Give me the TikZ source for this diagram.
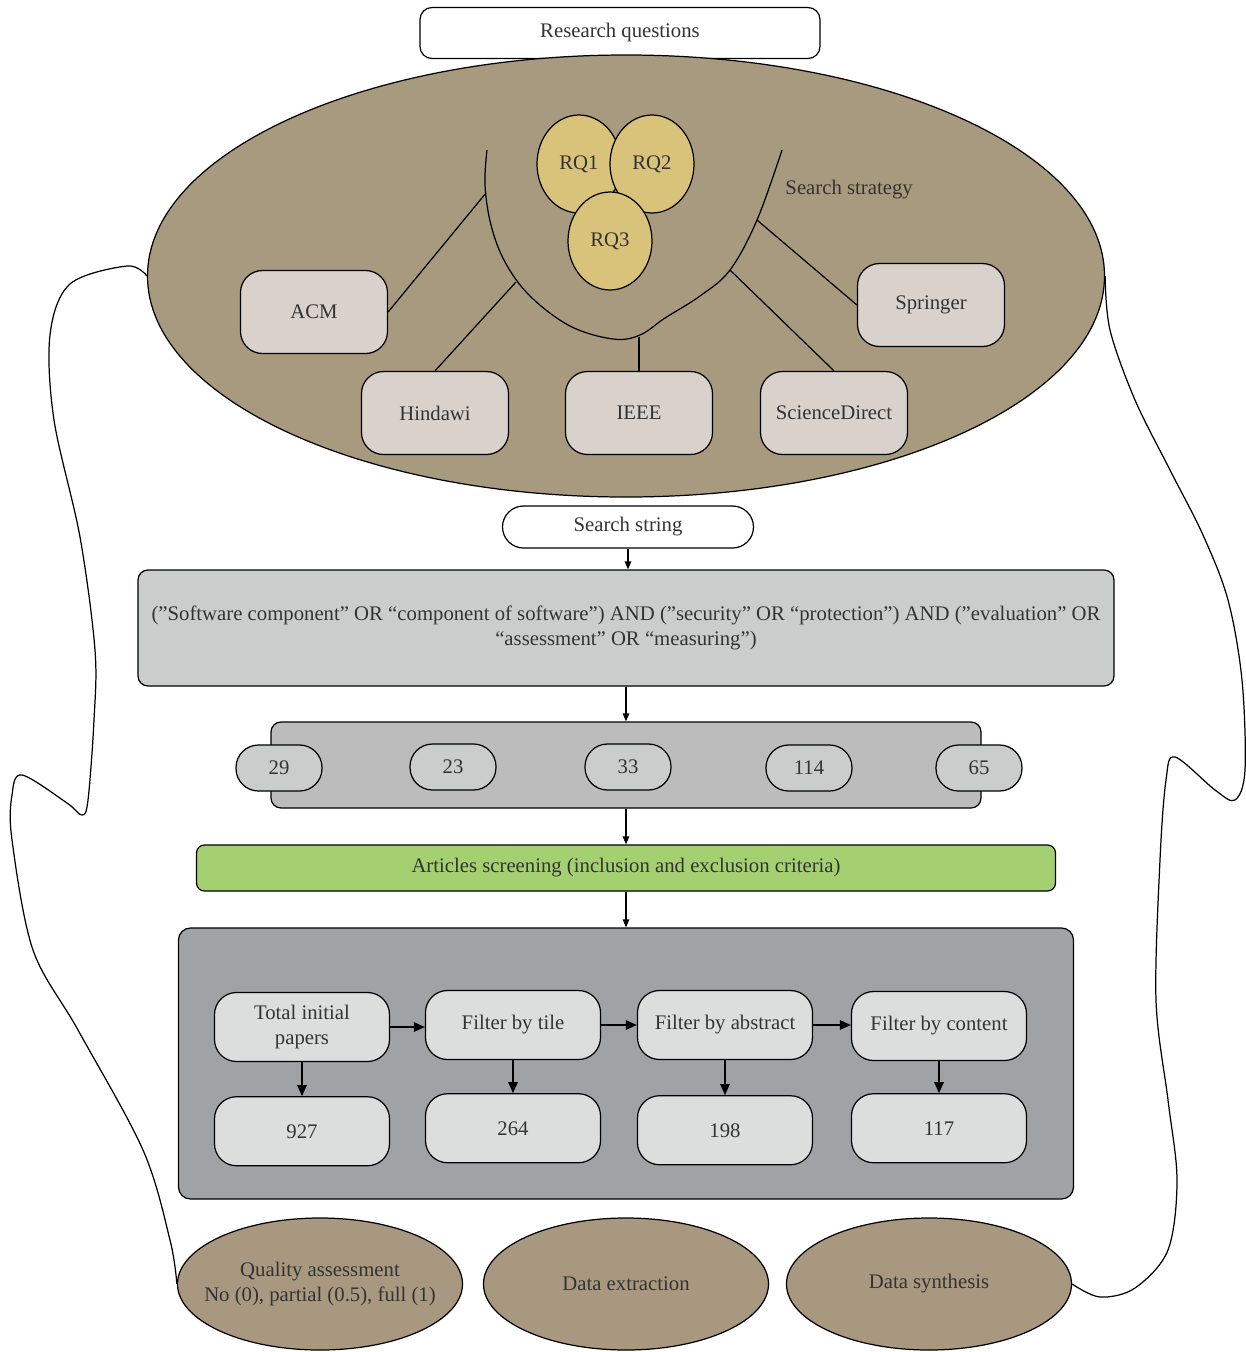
\documentclass[tikz,border=0pt]{standalone}
\usepackage{fontspec}
\setmainfont{Liberation Serif}
\usepackage{xcolor}
\usepackage{tikz}
\usetikzlibrary{arrows.meta,shapes.geometric,positioning}
\definecolor{srtan}{RGB}{168,154,126}
\definecolor{srphase}{RGB}{168,152,128}
\definecolor{srgold}{RGB}{217,194,122}
\definecolor{srsource}{RGB}{216,209,204}
\definecolor{srquery}{RGB}{203,205,204}
\definecolor{srcount}{RGB}{187,188,187}
\definecolor{srgreen}{RGB}{164,208,114}
\definecolor{srsteel}{RGB}{160,163,166}
\definecolor{srstep}{RGB}{220,221,221}
\definecolor{srtext}{RGB}{51,51,51}

\begin{document}
\begin{tikzpicture}[
    x=0.2mm, y=-0.2mm,
    line width=0.7pt,
    every node/.style={font=\fontsize{11.8}{14}\selectfont, text=srtext},
    titlebox/.style={rectangle, draw, fill=white, rounded corners=2.4mm, minimum width=80mm, minimum height=10.2mm},
    bigoval/.style={ellipse, draw, fill=srtan, minimum width=191.4mm, minimum height=88.4mm, inner sep=0pt},
    rq/.style={ellipse, draw, fill=srgold, minimum width=16.8mm, minimum height=19.6mm, inner sep=0pt},
    source/.style={rectangle, draw, fill=srsource, rounded corners=4.4mm, minimum width=29.4mm, minimum height=16.6mm},
    pill/.style={rectangle, draw, fill=srquery, rounded corners=4.5mm, minimum width=17.2mm, minimum height=9.2mm},
    panel/.style={rectangle, draw, rounded corners=2mm},
    stepbox/.style={rectangle, draw, fill=srstep, rounded corners=4.4mm, minimum width=35mm, minimum height=13.8mm, align=center},
    phase/.style={ellipse, draw, fill=srphase, minimum width=57mm, minimum height=26.4mm, inner sep=0pt, align=center},
    arrow/.style={-{Triangle[length=1.6mm, width=1.3mm]}},
    steparrow/.style={-{Triangle[length=2.2mm, width=1.9mm]}}
]
    \useasboundingbox (0,0) rectangle (1245,1352);

    % Research questions and search strategy
    \node[titlebox] (rqtitle) at (620,33) {Research questions};
    \node[bigoval] (strategy) at (626,276) {};
    \draw plot[smooth, tension=0.6] coordinates {(487,150) (485,185) (491,225) (505,262) (530,296) (570,326) (613,339) (640,335) (665,318) (700,296) (730,270) (757,220) (782,150)};
    \coordinate (cupacm) at (486,193);
    \coordinate (cuphin) at (516,282);
    \coordinate (cupieee) at (639,337);
    \coordinate (cupsd) at (730,270);
    \coordinate (cupspr) at (757,220);
    \node[anchor=west] (stratlabel) at (779,190) {Search strategy};

    % Digital libraries
    \node[source] (acm) at (314,312) {ACM};
    \node[source] (hindawi) at (435,413) {Hindawi};
    \node[source] (ieee) at (639,413) {IEEE};
    \node[source] (sciencedirect) at (834,413) {ScienceDirect};
    \node[source] (springer) at (931,305) {Springer};
    \draw (cupacm) -- (acm.east);
    \draw (cuphin) -- (hindawi.north);
    \draw (cupieee) -- (ieee.north);
    \draw (cupsd) -- (sciencedirect.north);
    \draw (cupspr) -- (springer.west);

    % Questions
    \node[rq] (rq1) at (579,164) {RQ1};
    \node[rq] (rq2) at (652,164) {RQ2};
    \node[rq] (rq3) at (610,241) {RQ3};

    % Search string and query
    \node[titlebox, rounded corners=4.2mm, minimum width=50.2mm, minimum height=8.4mm] (searchstr) at (628,527) {Search string};
    \node[panel, fill=srquery, minimum width=195.2mm, minimum height=23.2mm, align=center] (query) at (626,628)
        {(”Software component” OR “component of software”) AND (”security” OR “protection”) AND (”evaluation” OR\\
         “assessment” OR “measuring”)};
    \draw[arrow] (searchstr.south) -- (searchstr.south |- query.north);

    % Results per library
    \node[panel, fill=srcount, minimum width=142mm, minimum height=17.2mm] (counts) at (626,765) {};
    \node[pill] (c29) at (279,768) {29};
    \node[pill] (c23) at (453,767) {23};
    \node[pill] (c33) at (628,767) {33};
    \node[pill] (c114) at (809,768) {114};
    \node[pill] (c65) at (979,768) {65};
    \draw[arrow] (query.south) -- (counts.north);

    % Screening
    \node[panel, fill=srgreen, rounded corners=1.6mm, minimum width=171.8mm, minimum height=9.2mm] (screening) at (626,868) {Articles screening (inclusion and exclusion criteria)};
    \draw[arrow] (counts.south) -- (screening.north);

    % Filtering stages
    \node[panel, fill=srsteel, rounded corners=2.4mm, minimum width=179mm, minimum height=54.2mm] (filters) at (626,1063.5) {};
    \draw[arrow] (screening.south) -- (filters.north);
    \node[stepbox] (total) at (302,1027) {Total initial\\papers};
    \node[stepbox] (tile) at (513,1025) {Filter by tile};
    \node[stepbox] (abstract) at (725,1025) {Filter by abstract};
    \node[stepbox] (content) at (939,1026) {Filter by content};
    \node[stepbox, below=6.8mm of total] (n927) {927};
    \node[stepbox, below=6.6mm of tile] (n264) {264};
    \node[stepbox, below=7mm of abstract] (n198) {198};
    \node[stepbox, below=6.4mm of content] (n117) {117};
    \draw[steparrow] (total.east) -- (total.east -| tile.west);
    \draw[steparrow] (tile.east) -- (tile.east -| abstract.west);
    \draw[steparrow] (abstract.east) -- (abstract.east -| content.west);
    \draw[steparrow] (total.south) -- (n927.north);
    \draw[steparrow] (tile.south) -- (n264.north);
    \draw[steparrow] (abstract.south) -- (n198.north);
    \draw[steparrow] (content.south) -- (n117.north);

    % Later phases
    \node[phase, inner xsep=-5mm] (quality) at (320,1284) {Quality assessment\\No (0), partial (0.5), full (1)};
    \node[phase] (extraction) at (626,1284) {Data extraction};
    \node[phase] (synthesis) at (929,1284) {Data synthesis};

    % Feedback loops
    \draw plot[smooth, tension=0.55] coordinates {(strategy.west) (127,266) (70,284) (50,335) (54,420) (80,537) (95,650) (94,720) (88,800) (82,815) (67,803) (22,775) (12,795) (12,840) (33,950) (78,1030) (143,1150) (170,1240) (quality.west)};
    \draw plot[smooth, tension=0.55] coordinates {(strategy.east) (1110,330) (1135,400) (1170,470) (1203,535) (1228,600) (1242,680) (1245,770) (1235,800) (1215,790) (1175,757) (1166,780) (1160,860) (1156,1000) (1168,1100) (1177,1180) (1168,1250) (1135,1288) (1100,1297) (synthesis.east)};
\end{tikzpicture}
\end{document}
